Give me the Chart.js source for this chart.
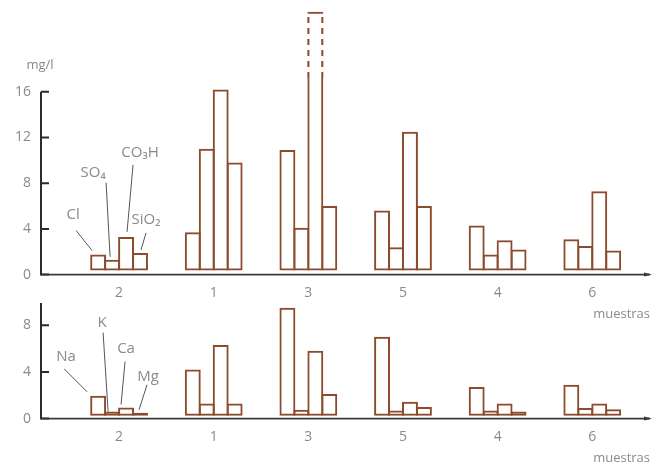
<!DOCTYPE html>
<html>
<head>
<meta charset="utf-8">
<script src="https://cdn.jsdelivr.net/npm/chart.js@4.4.1/dist/chart.umd.min.js"></script>
<style>
  html, body { margin: 0; padding: 0; background: #fff; }
  #wrap { position: relative; width: 661px; height: 466px; }
  #wrap canvas { position: absolute; left: 0; }
  #top { top: 0; }
  #bottom { top: 295px; }
</style>
</head>
<body>
<div id="wrap">
  <canvas id="top" width="661" height="322"></canvas>
  <canvas id="bottom" width="661" height="171"></canvas>
</div>
<script>
// samples, in the order they appear on the x axis
const samples = ["2", "1", "3", "5", "4", "6"];

// anions, mg/l
const anionNames = ["Cl", "SO₄", "CO₃H", "SiO₂"];
const cl   = [1.75, 3.7, 10.9, 5.6, 4.3, 3.1];
const so4  = [1.3, 11.0, 4.1, 2.4, 1.75, 2.5];
const co3h = [3.3, 16.2, 23.0, 12.5, 3.0, 7.3];
const sio2 = [1.9, 9.8, 6.0, 6.0, 2.2, 2.1];

// cations, mg/l
const cationNames = ["Na", "K", "Ca", "Mg"];
const na = [1.95, 4.2, 9.5, 7.0, 2.7, 2.9];
const k  = [0.6, 1.3, 0.75, 0.7, 0.7, 0.9];
const ca = [0.95, 6.3, 5.8, 1.45, 1.3, 1.3];
const mg = [0.5, 1.3, 2.1, 1.0, 0.6, 0.8];

const anionTicks = [0, 4, 8, 12, 16];
const cationTicks = [0, 4, 8];

const barColor = "#8b4b2c";
const textColor = "#8a8a8a";
const fontFamily = "'Open Sans', 'DejaVu Sans', sans-serif";

// callout placement for the first group (offsets from bar centre / top, px)
const anionCallouts = [
    { tx: -25, ty: -40, sx: -22, sy: -24, ex: -6, ey: -4 },
    { tx: -19, ty: -87, sx: -6, sy: -77, ex: -2, ey: -3 },
    { tx: 14, ty: -84, sx: 7, sy: -72, ex: 1, ey: -5 },
    { tx: 6, ty: -33, sx: 6, sy: -20, ex: 1, ey: -3 }
];
const cationCallouts = [
    { tx: -32, ty: -39, sx: -34, sy: -27, ex: -11, ey: -4 },
    { tx: -10, ty: -89, sx: -9, sy: -79, ex: -4, ey: 0 },
    { tx: 0, ty: -59, sx: -1, sy: -46, ex: -5, ey: -3 },
    { tx: 8, ty: -36, sx: 7, sy: -28, ex: -1, ey: -3 }
];

function toPoints(values) {
    return values.map((v, i) => ({ x: i, y: v }));
}

// bars in a group touch, so they are made slightly wider than their slot
// to let neighbouring outlines fall on top of each other
function makeDatasets(names, series, base) {
    return names.map((name, i) => ({
        label: name,
        data: toPoints(series[i]),
        base: base,
        backgroundColor: "rgba(255,255,255,0)",
        borderColor: barColor,
        borderWidth: 2,
        borderSkipped: false,
        inflateAmount: 0,
        barPercentage: 1.14,
        categoryPercentage: 0.59,
        grouped: true
    }));
}

// draws the axis lines, inward ticks, callouts and the broken bar
const axesPlugin = {
    id: "axes",
    afterDraw(chart, args, opts) {
        const { ctx, chartArea } = chart;
        const y = chart.scales.y;
        const left = chartArea.left;
        const y0 = y.getPixelForValue(0);
        const yTop = y.getPixelForValue(opts.axisTop);

        ctx.save();

        // dashed continuation of the off-scale bar
        if (opts.breakAt != null) {
            chart.data.datasets.forEach((ds, di) => {
                const meta = chart.getDatasetMeta(di);
                meta.data.forEach((bar, bi) => {
                    if (ds.data[bi].y <= opts.breakAt) return;
                    const yb = y.getPixelForValue(opts.breakAt);
                    const l = bar.x - bar.width / 2 + 1;
                    const r = bar.x + bar.width / 2 - 1;
                    ctx.fillStyle = "#fff";
                    ctx.fillRect(l - 1.5, bar.y + 2, 3, yb - bar.y - 2);
                    ctx.fillRect(r - 1.5, bar.y + 2, 3, yb - bar.y - 2);
                    ctx.strokeStyle = barColor;
                    ctx.lineWidth = 2;
                    ctx.setLineDash([6, 5]);
                    ctx.beginPath();
                    ctx.moveTo(l, yb);
                    ctx.lineTo(l, bar.y + 2);
                    ctx.moveTo(r, yb);
                    ctx.lineTo(r, bar.y + 2);
                    ctx.stroke();
                    ctx.setLineDash([]);
                });
            });
        }

        // y axis
        ctx.strokeStyle = "#2b2b2b";
        ctx.lineWidth = 2;
        ctx.beginPath();
        ctx.moveTo(left, y0 + 1);
        ctx.lineTo(left, yTop);
        y.ticks.forEach(t => {
            const py = y.getPixelForValue(t.value);
            ctx.moveTo(left, py);
            ctx.lineTo(left + 8, py);
        });
        ctx.stroke();

        // x axis with small arrow
        ctx.strokeStyle = "#3a3a3a";
        ctx.lineWidth = 1.6;
        ctx.beginPath();
        ctx.moveTo(left, y0);
        ctx.lineTo(chartArea.right, y0);
        ctx.stroke();
        ctx.fillStyle = "#3a3a3a";
        ctx.beginPath();
        ctx.moveTo(chartArea.right + 2, y0);
        ctx.lineTo(chartArea.right - 6, y0 - 2);
        ctx.lineTo(chartArea.right - 6, y0 + 2);
        ctx.closePath();
        ctx.fill();

        // unit label
        if (opts.unit) {
            ctx.fillStyle = textColor;
            ctx.font = "13px " + fontFamily;
            ctx.textAlign = "center";
            ctx.textBaseline = "middle";
            ctx.fillText(opts.unit, left - 1, yTop - 26);
        }

        // callouts on the first group
        ctx.font = "15px " + fontFamily;
        ctx.textAlign = "center";
        ctx.textBaseline = "middle";
        opts.callouts.forEach((c, di) => {
            const bar = chart.getDatasetMeta(di).data[0];
            const bx = bar.x, by = bar.y;
            ctx.strokeStyle = "#555";
            ctx.lineWidth = 1;
            ctx.beginPath();
            ctx.moveTo(bx + c.sx, by + c.sy);
            ctx.lineTo(bx + c.ex, by + c.ey);
            ctx.stroke();
            ctx.fillStyle = textColor;
            ctx.fillText(chart.data.datasets[di].label, bx + c.tx, by + c.ty);
        });

        ctx.restore();
    }
};

function makeChart(id, names, series, base, yMax, ticks, axisTop, padTop, callouts, unit, breakAt) {
    return new Chart(document.getElementById(id), {
        type: "bar",
        data: { datasets: makeDatasets(names, series, base) },
        options: {
            responsive: false,
            animation: false,
            layout: { padding: { top: padTop, right: 11, left: 0, bottom: 0 } },
            plugins: {
                legend: { display: false },
                tooltip: { enabled: false },
                axes: { axisTop: axisTop, callouts: callouts, unit: unit, breakAt: breakAt }
            },
            scales: {
                x: {
                    type: "linear",
                    offset: false,
                    min: -0.825,
                    max: 5.61,
                    afterBuildTicks: s => { s.ticks = samples.map((_, i) => ({ value: i })); },
                    ticks: {
                        callback: v => samples[v],
                        color: textColor,
                        font: { family: fontFamily, size: 14 },
                        padding: 10,
                        maxRotation: 0,
                        autoSkip: false
                    },
                    grid: { display: false, drawTicks: false },
                    border: { display: false },
                    title: {
                        display: true,
                        text: "muestras",
                        align: "end",
                        color: textColor,
                        font: { family: fontFamily, size: 13 },
                        padding: { top: -5, bottom: 0 }
                    }
                },
                y: {
                    min: 0,
                    max: yMax,
                    afterBuildTicks: s => { s.ticks = ticks.map(v => ({ value: v })); },
                    afterFit: s => {
                        s.width = 41;
                        s.paddingTop = 0;
                        s.paddingBottom = 0;
                    },
                    ticks: {
                        color: textColor,
                        font: { family: fontFamily, size: 14 },
                        padding: 10
                    },
                    grid: { display: false, drawTicks: false },
                    border: { display: false }
                }
            }
        },
        plugins: [axesPlugin]
    });
}

makeChart("top", anionNames, [cl, so4, co3h, sio2], 0.35, 23.5, anionTicks, 16, 6, anionCallouts, "mg/l", 17.2);
makeChart("bottom", cationNames, [na, k, ca, mg], 0.25, 9.9, cationTicks, 9.9, 8, cationCallouts, null, null);
</script>
</body>
</html>
